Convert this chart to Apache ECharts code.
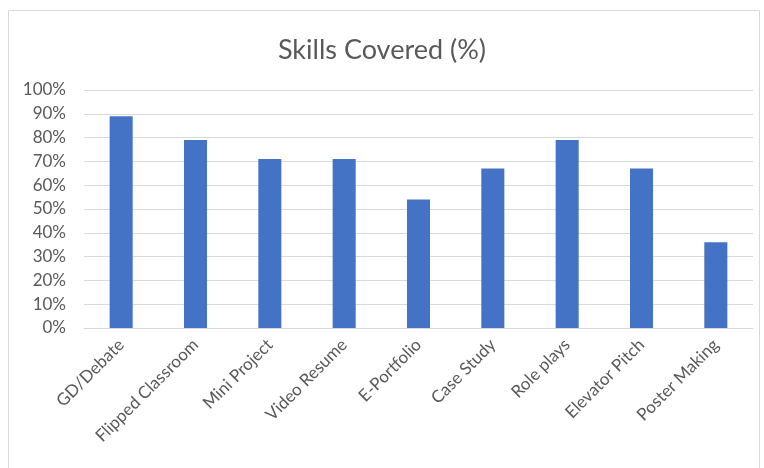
<!DOCTYPE html>
<html><head><meta charset="utf-8">
<script src="https://cdn.jsdelivr.net/npm/echarts@6/dist/echarts.min.js"></script>
<style>html,body{margin:0;padding:0;background:#fff}#c{width:764px;height:468px}</style>
</head><body><div id="c"></div>
<script>
const categories = ["GD/Debate","Flipped Classroom","Mini Project","Video Resume","E-Portfolio","Case Study","Role plays","Elevator Pitch","Poster Making"];
const values = [89,79,71,71,54,67,79,67,36];
const FONT = 'Lato, Open Sans, sans-serif';
const chart = echarts.init(document.getElementById('c'));
chart.setOption({
  animation:false,
  graphic:[{type:'rect',shape:{x:8.5,y:10.5,width:751,height:470},style:{fill:'none',stroke:'#d9d9d9',lineWidth:1},silent:true}],
  title:{text:'Skills Covered (%)',left:'center',top:32,textStyle:{fontFamily:FONT,fontSize:27,fontWeight:'normal',color:'#595959'}},
  grid:{left:84,right:11,top:90,bottom:140,containLabel:false},
  xAxis:{type:'category',data:categories,
    axisLine:{lineStyle:{color:'#d9d9d9',width:1}},axisTick:{show:false},
    axisLabel:{rotate:45,interval:0,color:'#595959',fontSize:17,fontFamily:FONT,margin:14}},
  yAxis:{type:'value',min:0,max:100,interval:10,
    axisLine:{show:false},axisTick:{show:false},
    splitLine:{lineStyle:{color:'#d9d9d9',width:1}},
    axisLabel:{formatter:'{value}%',color:'#595959',fontSize:17,fontFamily:FONT,margin:18}},
  series:[{type:'bar',data:values,barWidth:'31%',itemStyle:{color:'#4472c4'}}]
});
</script></body></html>
